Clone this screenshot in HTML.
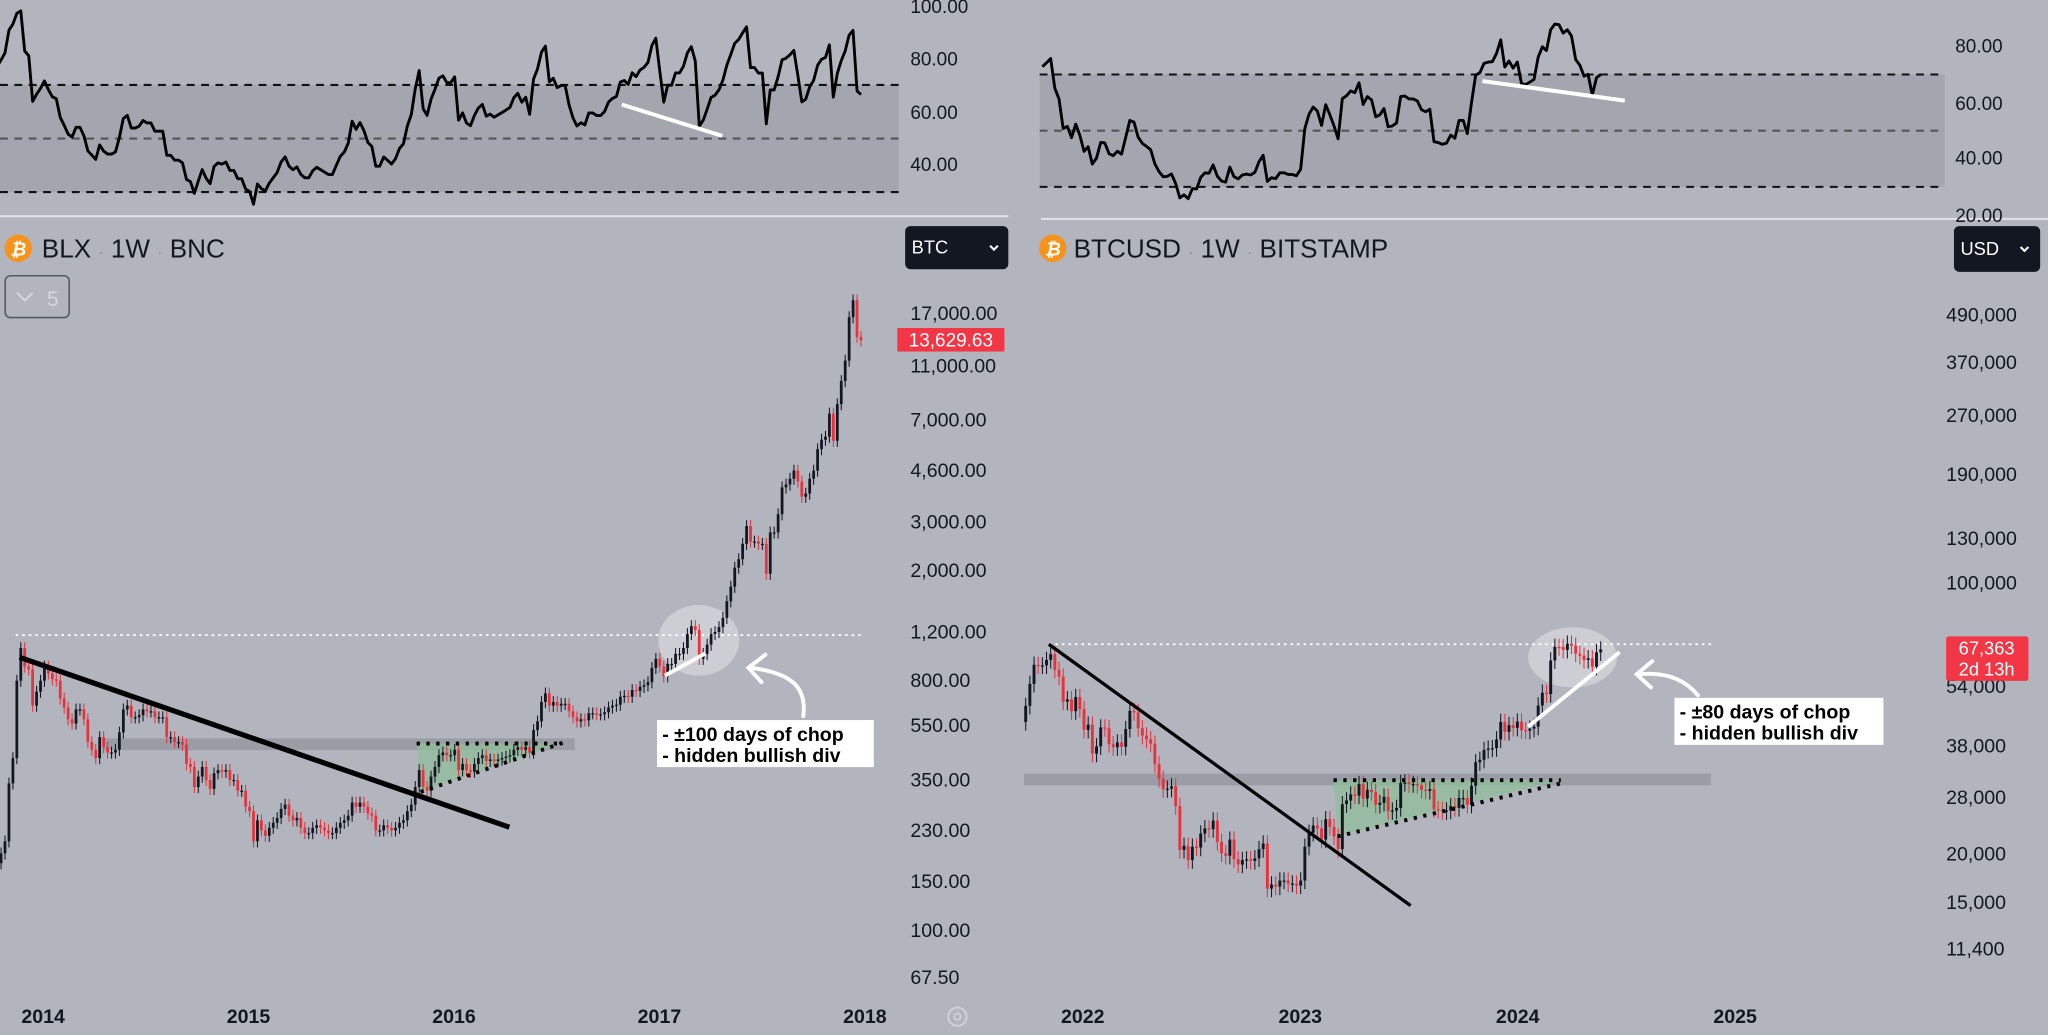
<!DOCTYPE html>
<html><head><meta charset="utf-8"><title>BLX 2017 vs BTCUSD 2024 weekly charts</title>
<style>
html,body{margin:0;padding:0;background:#b2b5be;overflow:hidden}
svg{display:block}
text{font-family:"Liberation Sans",sans-serif}
</style></head>
<body>
<svg id="chart" width="2048" height="1035" viewBox="0 0 1568 792" preserveAspectRatio="none" xmlns="http://www.w3.org/2000/svg">
<rect x="0" y="0" width="1568" height="792" fill="#b2b5be"/>
<rect x="0" y="65" width="688" height="82" fill="#a3a6af"/>
<rect x="796" y="57" width="693" height="86" fill="#a3a6af"/>
<g stroke="#111" stroke-width="1.6" stroke-dasharray="6,5">
<line x1="0" y1="65" x2="688" y2="65"/><line x1="0" y1="147" x2="688" y2="147"/>
<line x1="0" y1="106" x2="688" y2="106" stroke="#555"/>
<line x1="796" y1="57" x2="1489" y2="57"/><line x1="796" y1="143" x2="1489" y2="143"/>
<line x1="796" y1="100" x2="1489" y2="100" stroke="#555"/>
</g>
<line x1="0" y1="165.5" x2="772" y2="165.5" stroke="#e2e4e8" stroke-width="1.5"/>
<line x1="797" y1="167.5" x2="1568" y2="167.5" stroke="#e2e4e8" stroke-width="1.5"/>
<g font-size="14.5" fill="#131722">
<text x="697" y="10">100.00</text><text x="697" y="50">80.00</text><text x="697" y="91">60.00</text><text x="697" y="131">40.00</text>
<text x="1497" y="40">80.00</text><text x="1497" y="84">60.00</text><text x="1497" y="126">40.00</text><text x="1497" y="170">20.00</text>
</g>
<circle cx="14" cy="190" r="10.5" fill="#f7931a"/>
<text x="14" y="195.5" font-size="14" font-weight="bold" fill="#fff" text-anchor="middle" font-style="italic">₿</text>
<text x="32" y="197" font-size="20" fill="#131722">BLX <tspan fill="#888" font-size="12">·</tspan> 1W <tspan fill="#888" font-size="12">·</tspan> BNC</text>
<circle cx="806" cy="190" r="10.5" fill="#f7931a"/>
<text x="806" y="195.5" font-size="14" font-weight="bold" fill="#fff" text-anchor="middle" font-style="italic">₿</text>
<text x="822" y="197" font-size="20" fill="#131722">BTCUSD <tspan fill="#888" font-size="12">·</tspan> 1W <tspan fill="#888" font-size="12">·</tspan> BITSTAMP</text>
<g>
<rect x="693" y="173" width="79" height="33" rx="4" fill="#131722"/>
<text x="698" y="194" font-size="14" fill="#fff">BTC</text>
<path d="M758 188 l3 3 l3 -3" stroke="#fff" stroke-width="1.6" fill="none"/>
</g>
<g>
<rect x="1496" y="173" width="66" height="35" rx="4" fill="#131722"/>
<text x="1501" y="195" font-size="14" fill="#fff">USD</text>
<path d="M1547 189 l3 3 l3 -3" stroke="#fff" stroke-width="1.6" fill="none"/>
</g>
<g>
<rect x="4" y="211" width="49" height="32" rx="4" fill="none" stroke="#555b66" stroke-width="1.2"/>
<path d="M13 224 l6 6 l6 -6" stroke="#d5d7dc" stroke-width="1.6" fill="none"/>
<text x="36" y="234" font-size="16" fill="#d5d7dc">5</text>
</g>
<rect x="79" y="565" width="361" height="9" fill="#9a9da5"/>
<rect x="784" y="592" width="526" height="9" fill="#9a9da5"/>
<polygon points="319,569 430,569 322,606" fill="#8fbf9a" opacity="0.75"/>
<polygon points="1021,597 1195,597 1024,640" fill="#8fbf9a" opacity="0.75"/>
<ellipse cx="535" cy="490" rx="31" ry="27" fill="#d3d5da" opacity="0.8"/>
<ellipse cx="1204" cy="503" rx="34" ry="23" fill="#d3d5da" opacity="0.8"/>
<line x1="12" y1="486" x2="662" y2="486" stroke="#fff" stroke-width="1.3" stroke-dasharray="2,3"/>
<line x1="803" y1="493" x2="1310" y2="493" stroke="#fff" stroke-width="1.3" stroke-dasharray="2,3"/>
<g id="candles"></g>
<g id="rsi"></g>
<g id="ticks"></g>
<line x1="15" y1="503" x2="390" y2="633" stroke="#000" stroke-width="4"/>
<line x1="803" y1="493" x2="1080" y2="693" stroke="#000" stroke-width="2.5"/>
<g stroke="#000" stroke-width="3" stroke-dasharray="2.5,5" fill="none">
<line x1="319" y1="569" x2="430" y2="569"/><line x1="322" y1="606" x2="432" y2="568"/>
<line x1="1021" y1="597" x2="1195" y2="597"/><line x1="1024" y1="640" x2="1197" y2="599"/>
</g>
<line x1="509" y1="517" x2="540" y2="500" stroke="#fff" stroke-width="3"/>
<line x1="1170" y1="556" x2="1240" y2="499" stroke="#fff" stroke-width="3"/>
<line x1="476" y1="80" x2="553" y2="104" stroke="#fff" stroke-width="3"/>
<line x1="1135" y1="62" x2="1244" y2="77" stroke="#fff" stroke-width="3"/>
<g stroke="#fff" stroke-width="3" fill="none" stroke-linecap="round">
<path d="M615 548 C618 525 605 515 575 511"/><path d="M586 501 L573 511 L583 522"/>
</g>
<g stroke="#fff" stroke-width="3" fill="none" stroke-linecap="round">
<path d="M1300 532 C1290 520 1275 514 1255 516"/><path d="M1265 506 L1253 516 L1264 526"/>
</g>
<g>
<rect x="503" y="551" width="166" height="36" fill="#fff"/>
<text x="507" y="567" font-size="15" font-weight="bold" fill="#000">- ±100 days of chop</text>
<text x="507" y="583" font-size="15" font-weight="bold" fill="#000">- hidden bullish div</text>
</g>
<g>
<rect x="1282" y="534" width="160" height="36" fill="#fff"/>
<text x="1286" y="550" font-size="15" font-weight="bold" fill="#000">- ±80 days of chop</text>
<text x="1286" y="566" font-size="15" font-weight="bold" fill="#000">- hidden bullish div</text>
</g>
<g>
<rect x="687" y="251" width="82" height="18" fill="#f23645"/>
<text x="728" y="265" font-size="14.5" fill="#fff" text-anchor="middle">13,629.63</text>
</g>
<g>
<rect x="1490" y="487" width="63" height="34" rx="2" fill="#f23645"/>
<text x="1521" y="501" font-size="14" fill="#fff" text-anchor="middle">67,363</text>
<text x="1521" y="517" font-size="14" fill="#fff" text-anchor="middle">2d 13h</text>
</g>
<g>
<circle cx="733" cy="778" r="7" fill="none" stroke="#d0d2d7" stroke-width="1.5"/>
<circle cx="733" cy="778" r="2.5" fill="none" stroke="#d0d2d7" stroke-width="1.2"/>
</g>
</svg>
<script>
const leftCloses = [175,190,210,340,420,800,1050,900,880,650,730,800,
900,850,810,800,690,640,580,560,630,630,580,480,450,420,500,460,440,440,450,520,630,650,590,590,600,630,620,620,590,590,590,500,500,480,480,470,400,390,330,360,390,350,325,370,380,375,380,350,350,320,320,280,
270,210,250,230,220,235,245,255,275,285,260,250,255,235,225,225,235,240,235,230,225,225,235,245,250,260,290,280,290,280,265,260,230,230,240,235,230,235,245,250,270,285,330,380,330,320,360,390,430,440,430,430,
450,380,400,380,375,400,420,430,410,415,410,415,420,425,430,450,460,450,460,440,530,570,670,720,650,670,650,660,660,620,590,570,580,575,610,610,605,605,615,640,650,655,700,705,700,740,735,760,770,790,890,960,
900,830,920,920,1000,1000,1050,1180,1260,1220,960,1000,1080,1180,1200,1250,1350,1550,1750,2050,2200,2500,2900,2550,2550,2500,2500,1950,2750,2750,3200,4000,4100,4300,4600,4200,3700,3800,4300,4600,5500,5950,6100,7400,5900,8000,9700,11500,16500,19000,14000,13629];
const leftOpen0 = 150;
const leftRsiSeed = 72;
const rightCloses = [48200,54900,61500,61300,61300,63300,65500,59700,57300,49400,50100,46700,50800,47300,
41800,43100,36300,37900,42400,42200,38400,37700,38800,37800,42000,46800,46400,42200,40400,39500,38500,34100,31300,29400,29500,29900,26600,20500,21000,19300,20900,20800,22600,23300,23200,24400,21500,20100,19800,21800,19400,18800,19300,19400,19200,19500,20600,21300,16300,16700,16500,17100,17100,16800,16800,16600,
17100,20900,22700,23700,23300,21800,24600,23500,22200,20600,26900,27500,28500,28300,30300,27800,29300,28900,26800,27100,28100,25800,25900,26300,30500,30600,30300,30300,30100,29300,29100,29400,26100,26000,25800,25900,26600,26300,27900,27900,26800,30000,34500,35000,37100,37400,37500,39500,43800,41300,43000,42300,
43900,41700,41600,42100,42600,48300,52100,51700,63100,68400,68300,67200,69700,68900,65700,64900,63300,63900,60800,66200,67363];
const rightOpen0 = 43800;
const rightRsiSeed = 58;
const leftTicks = [17000,11000,7000,4600,3000,2000,1200,800,550,350,230,150,100,67.5];
const leftTickText = ["17,000.00","11,000.00","7,000.00","4,600.00","3,000.00","2,000.00","1,200.00","800.00","550.00","350.00","230.00","150.00","100.00","67.50"];
const rightTicks = [490000,370000,270000,190000,130000,100000,54000,38000,28000,20000,15000,11400];
const rightTickText = ["490,000","370,000","270,000","190,000","130,000","100,000","54,000","38,000","28,000","20,000","15,000","11,400"];
const leftYears = [2014,2015,2016,2017,2018];
const rightYears = [2022,2023,2024,2025];

const L = {x0:-2.2, dx:3.02, yTop:240, pTop:17000, perDec:211.6, yearX:(yr)=>33+(yr-2014)*157.3, rsiTop:65, rsiBot:147, labelX:697, rsiMinX:-10};
const R = {x0:785.3, dx:3.19, yTop:241, pTop:490000, perDec:297, yearX:(yr)=>829+(yr-2022)*166.5, rsiTop:57, rsiBot:143, labelX:1490, rsiMinX:796};
function yOf(S,p){return S.yTop+(Math.log10(S.pTop)-Math.log10(p))*S.perDec;}
function xOf(S,i){return S.x0+i*S.dx;}
function rsiY(S,v){return S.rsiTop+(70-v)/40*(S.rsiBot-S.rsiTop);}
const NS="http://www.w3.org/2000/svg";
function mk(tag,attrs,parent){const e=document.createElementNS(NS,tag);for(const k in attrs)e.setAttribute(k,attrs[k]);parent.appendChild(e);return e;}

function drawCandles(S,closes,open0,name){
  const g=mk('g',{},document.getElementById('candles'));
  
  
  let prev=open0;
  closes.forEach((c,i)=>{
    const o=prev, up=c>=o, col=up?'#131722':'#e8323c';
    const x=xOf(S,i);
    const hi=Math.max(o,c)*1.05, lo=Math.min(o,c)*0.95;
    const wick=mk('line',{x1:x,x2:x,y1:yOf(S,hi),y2:yOf(S,lo),stroke:col,'stroke-width':0.8},g);
    
    
    const y1=yOf(S,Math.max(o,c)), y2=yOf(S,Math.min(o,c));
    const b=mk('rect',{x:x-S.dx*0.35,y:y1,width:S.dx*0.7,height:Math.max(1,y2-y1),fill:col},g);
    
    
    prev=c;
  });
}
function drawRSI(S,closes,open0,seed,name){
  const all=[open0].concat(closes);
  const k=0.06*open0;
  let ag=k*seed/100, al=k*(100-seed)/100;
  const pts=[];
  for(let i=1;i<all.length;i++){
    const d=all[i]-all[i-1], gn=Math.max(d,0), ls=Math.max(-d,0);
    ag=(ag*13+gn)/14; al=(al*13+ls)/14;
    const r= al===0?100:100-100/(1+ag/al);
    const x=xOf(S,i-1);
    if(x>=S.rsiMinX) pts.push([x,rsiY(S,r)]);
  }
  const p=mk('polyline',{points:pts.map(q=>q[0].toFixed(1)+','+q[1].toFixed(1)).join(' '),fill:'none',stroke:'#000','stroke-width':2.2,'stroke-linejoin':'round'},document.getElementById('rsi'));
  
  
}
function drawTicks(S,ticks,texts,years,name,yearY){
  const g=document.getElementById('ticks');
  ticks.forEach((t,i)=>{
    const e=mk('text',{x:S.labelX,y:yOf(S,t)+5,'font-size':15,fill:'#131722'},g);
    e.textContent=texts[i];
    
    
  });
  years.forEach(yr=>{
    const e=mk('text',{x:S.yearX(yr),y:yearY,'font-size':15,'font-weight':'bold',fill:'#131722','text-anchor':'middle'},g);
    e.textContent=String(yr);
    
    
  });
}
drawCandles(L,leftCloses,leftOpen0,'blx');
drawCandles(R,rightCloses,rightOpen0,'btcusd');
drawRSI(L,leftCloses,leftOpen0,leftRsiSeed,'blx');
drawRSI(R,rightCloses,rightOpen0,rightRsiSeed,'btcusd');
drawTicks(L,leftTicks,leftTickText,leftYears,'left',783);
drawTicks(R,rightTicks,rightTickText,rightYears,'right',783);
</script>
</body></html>
